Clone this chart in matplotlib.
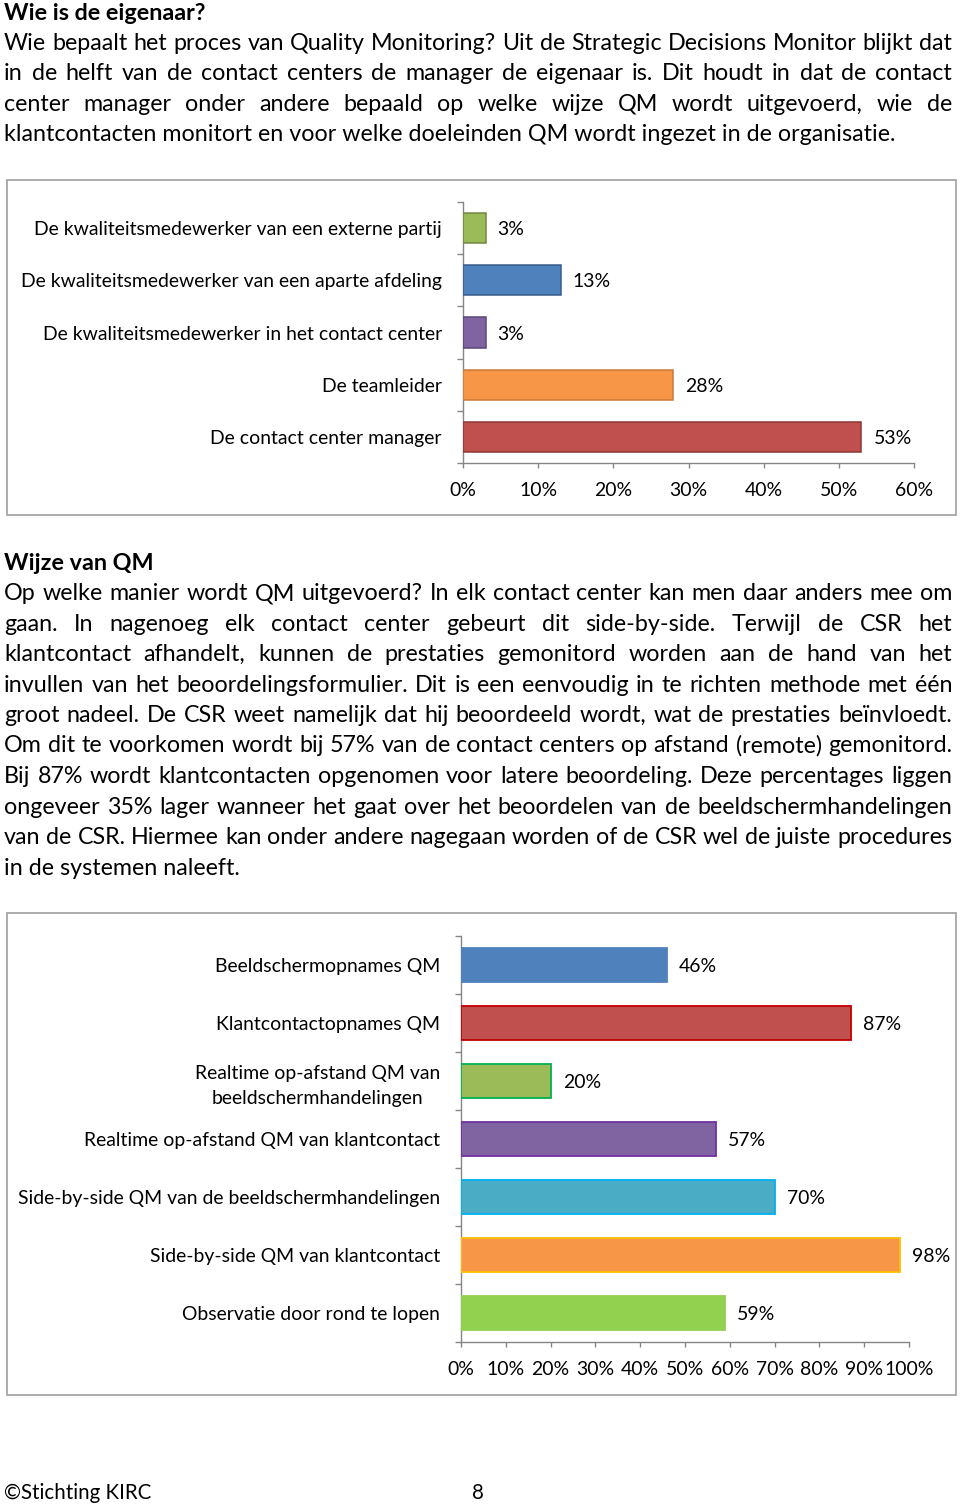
import matplotlib
matplotlib.use('Agg')
import matplotlib.pyplot as plt
from matplotlib.patches import Rectangle
import numpy as np

# ---------------- data ----------------
title1 = "Wie is de eigenaar?"
para1 = [
    "Wie bepaalt het proces van Quality Monitoring? Uit de Strategic Decisions Monitor blijkt dat",
    "in de helft van de contact centers de manager de eigenaar is. Dit houdt in dat de contact",
    "center manager onder andere bepaald op welke wijze QM wordt uitgevoerd, wie de",
    "klantcontacten monitort en voor welke doeleinden QM wordt ingezet in de organisatie.",
]
title2 = "Wijze van QM"
para2 = [
    "Op welke manier wordt QM uitgevoerd? In elk contact center kan men daar anders mee om",
    "gaan. In nagenoeg elk contact center gebeurt dit side-by-side. Terwijl de CSR het",
    "klantcontact afhandelt, kunnen de prestaties gemonitord worden aan de hand van het",
    "invullen van het beoordelingsformulier. Dit is een eenvoudig in te richten methode met één",
    "groot nadeel. De CSR weet namelijk dat hij beoordeeld wordt, wat de prestaties beïnvloedt.",
    "Om dit te voorkomen wordt bij 57% van de contact centers op afstand (remote) gemonitord.",
    "Bij 87% wordt klantcontacten opgenomen voor latere beoordeling. Deze percentages liggen",
    "ongeveer 35% lager wanneer het gaat over het beoordelen van de beeldschermhandelingen",
    "van de CSR. Hiermee kan onder andere nagegaan worden of de CSR wel de juiste procedures",
    "in de systemen naleeft.",
]
footer_left = "©Stichting KIRC"
footer_page = "8"

cats1 = [
    "De kwaliteitsmedewerker van een externe partij",
    "De kwaliteitsmedewerker van een aparte afdeling",
    "De kwaliteitsmedewerker in het contact center",
    "De teamleider",
    "De contact center manager",
]
vals1 = [3, 13, 3, 28, 53]
colors1 = ["#9BBB59", "#4F81BD", "#8064A2", "#F79646", "#C0504D"]
edges1 = ["#71893F", "#385D8A", "#5C4776", "#C77A3A", "#8C3836"]
xticks1 = [0, 10, 20, 30, 40, 50, 60]

cats2 = [
    "Beeldschermopnames QM",
    "Klantcontactopnames QM",
    "Realtime op-afstand QM van\nbeeldschermhandelingen",
    "Realtime op-afstand QM van klantcontact",
    "Side-by-side QM van de beeldschermhandelingen",
    "Side-by-side QM van klantcontact",
    "Observatie door rond te lopen",
]
vals2 = [46, 87, 20, 57, 70, 98, 59]
colors2 = ["#4F81BD", "#C0504D", "#9BBB59", "#8064A2", "#4BACC6", "#F79646", "#92D050"]
edges2 = ["#4F81BD", "#C00000", "#00B050", "#7030A0", "#00B0F0", "#FFC000", "#92D050"]
xticks2 = [0, 10, 20, 30, 40, 50, 60, 70, 80, 90, 100]

# ---------------- setup ----------------
FONT = 'Lato'
plt.rcParams['font.family'] = [FONT, 'DejaVu Sans']

W, H = 960, 1506
fig = plt.figure(figsize=(9.6, 15.06), dpi=100)
renderer = fig.canvas.get_renderer()


def fx(x):
    return x / W


def fy(y):
    return 1 - y / H


def text_width(s, size, weight='normal'):
    t = fig.text(0, 0, s, fontsize=size, fontweight=weight)
    w = t.get_window_extent(renderer).width
    t.remove()
    return w


def fit_size(s, target, weight='normal'):
    return 10 * target / text_width(s, 10, weight)


P_SIZE = fit_size(para1[-1], 892)
T_SIZE = fit_size(title1, 202, 'bold')
L_SIZE = fit_size(cats1[1], 421)
F_SIZE = fit_size(footer_left, 147)
TEXT_COLOR = '#000000'


def para_line(line, y, size, justify, x0=4, x1=952):
    if not justify:
        fig.text(fx(x0), fy(y), line, fontsize=size, va='baseline', ha='left', color=TEXT_COLOR)
        return
    words = line.split(' ')
    widths = [text_width(w, size) for w in words]
    gap = (x1 - x0 - sum(widths)) / (len(words) - 1)
    x = x0
    for w, wd in zip(words, widths):
        fig.text(fx(x), fy(y), w, fontsize=size, va='baseline', ha='left', color=TEXT_COLOR)
        x += wd + gap


# paragraph 1
fig.text(fx(4), fy(20), title1, fontsize=T_SIZE, fontweight='bold', va='baseline', ha='left')
for i, line in enumerate(para1):
    para_line(line, 50 + i * 30.3, P_SIZE, justify=(i < len(para1) - 1))

# paragraph 2
fig.text(fx(4), fy(570), title2, fontsize=T_SIZE, fontweight='bold', va='baseline', ha='left')
for i, line in enumerate(para2):
    para_line(line, 600 + i * 30.5, P_SIZE, justify=(i < len(para2) - 1))

# footer
fig.text(fx(4), fy(1499), footer_left, fontsize=F_SIZE, va='baseline', ha='left')
fig.text(fx(478), fy(1499), footer_page, fontsize=F_SIZE, va='baseline', ha='center')

# chart boxes
BOX = '#A6A6A6'
for (l, t, r, b) in [(7, 180, 956, 515), (7, 913, 956, 1395)]:
    fig.patches.append(Rectangle((fx(l), fy(b)), (r - l) / W, (b - t) / H,
                                 transform=fig.transFigure, fill=False,
                                 edgecolor=BOX, linewidth=1.3))

SPINE = '#868686'
PX = 72 / 100  # points per pixel


def make_chart(left, right, top, bottom, cats, vals, colors, edges, xticks, barh_frac, lw):
    ax = fig.add_axes([fx(left), fy(bottom), (right - left) / W, (bottom - top) / H])
    n = len(cats)
    y = np.arange(n)
    ax.barh(y, vals, height=barh_frac, color=colors, edgecolor=edges, linewidth=lw, zorder=3)
    ax.set_xlim(xticks[0], xticks[-1])
    ax.set_ylim(n - 0.5, -0.5)
    for s in ['top', 'right']:
        ax.spines[s].set_visible(False)
    for s in ['left', 'bottom']:
        ax.spines[s].set_color(SPINE)
        ax.spines[s].set_linewidth(1.0)
    ax.set_xticks(xticks)
    ax.set_xticklabels([f"{v}%" for v in xticks])
    ax.set_yticks(y)
    ax.set_yticklabels(cats)
    ax.set_yticks(np.arange(n + 1) - 0.5, minor=True)
    ax.tick_params(axis='y', which='major', length=0, pad=21 * PX, labelsize=L_SIZE)
    ax.tick_params(axis='y', which='minor', length=6 * PX, color=SPINE, width=1.0)
    ax.tick_params(axis='x', which='major', length=5 * PX, color=SPINE, width=1.0,
                   pad=14 * PX, labelsize=L_SIZE)
    for lab in ax.get_yticklabels():
        lab.set_multialignment('center')
        lab.set_linespacing(1.55)
    for yi, v in zip(y, vals):
        ax.annotate(f"{v}%", xy=(v, yi), xytext=(12 * PX, -1.5 * PX), textcoords='offset points',
                    va='center', ha='left', fontsize=L_SIZE)
    ax.set_facecolor('none')
    return ax


make_chart(463, 914, 202, 463, cats1, vals1, colors1, edges1, xticks1, 0.58, 1.1)
make_chart(461, 909, 936, 1342, cats2, vals2, colors2, edges2, xticks2, 0.59, 1.3)

fig.savefig('out.png', dpi=100)
